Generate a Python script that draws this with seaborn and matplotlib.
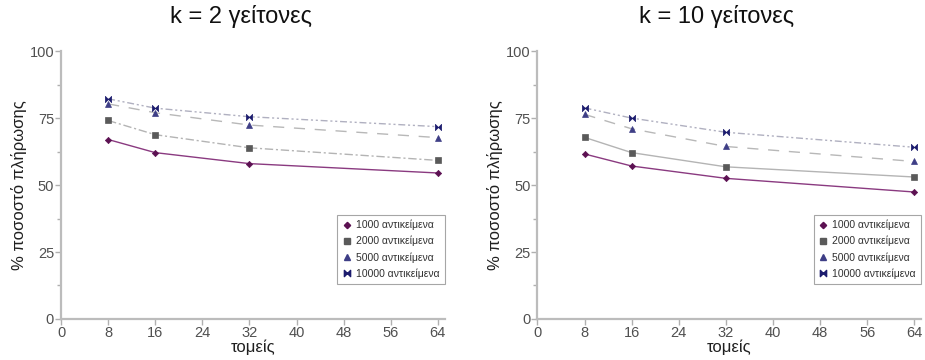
import numpy as np
import pandas as pd
import matplotlib
matplotlib.use("Agg")
import matplotlib.pyplot as plt
from matplotlib.path import Path
from matplotlib.lines import Line2D
from matplotlib.ticker import MultipleLocator
import seaborn as sns

# data
sectors = [8, 16, 32, 64]
series_names = ["1000 αντικείμενα", "2000 αντικείμενα", "5000 αντικείμενα", "10000 αντικείμενα"]
k2_values = [
    [67.0, 62.1, 58.0, 54.5],
    [74.1, 68.8, 63.9, 59.2],
    [80.3, 77.0, 72.4, 67.7],
    [82.2, 78.7, 75.5, 71.8],
]
k10_values = [
    [61.6, 57.1, 52.5, 47.4],
    [67.8, 62.1, 56.8, 53.0],
    [76.4, 71.0, 64.4, 58.8],
    [78.8, 75.0, 69.7, 64.1],
]
titles = ["k = 2 γείτονες", "k = 10 γείτονες"]

sns.set_style("white")
plt.rcParams["font.family"] = ["Liberation Sans", "DejaVu Sans"]

# bowtie marker for the last series
bowtie = Path([(-1, 1), (1, -1), (1, 1), (-1, -1), (-1, 1)],
              [Path.MOVETO, Path.LINETO, Path.LINETO, Path.LINETO, Path.CLOSEPOLY])

markers = ["D", "s", "^", bowtie]
marker_sizes = [3.2, 5, 5, 4.5]
marker_colors = ["#5c1152", "#5a5a5a", "#3e3e86", "#1c1c6e"]
line_colors = ["#8a3a80", "#b4b4b4", "#b8b8b8", "#b0b0c0"]
dashes_left = ["-", (0, (6, 2, 1.5, 2)), (0, (8, 7)), (0, (5, 2, 1.5, 2, 1.5, 2))]
dashes_right = ["-", "-", (0, (8, 7)), (0, (5, 2, 1.5, 2, 1.5, 2))]

fig = plt.figure(figsize=(9.25, 3.6), dpi=100)
ax_l = fig.add_axes([0.066, 0.114, 0.415, 0.744])
ax_r = fig.add_axes([0.581, 0.114, 0.415, 0.744])

for ax, values, dashes, title, tx in zip([ax_l, ax_r], [k2_values, k10_values],
                                          [dashes_left, dashes_right], titles, [0.261, 0.775]):
    for i, name in enumerate(series_names):
        df = pd.DataFrame({"x": sectors, "y": values[i]})
        sns.lineplot(data=df, x="x", y="y", ax=ax, color=line_colors[i],
                     linestyle=dashes[i], linewidth=1.0, marker=markers[i],
                     markersize=marker_sizes[i], markerfacecolor=marker_colors[i],
                     markeredgecolor=marker_colors[i], markeredgewidth=0.5)
    ax.set_xlim(0, 65.2)
    ax.set_ylim(0, 100)
    ax.xaxis.set_major_locator(MultipleLocator(8))
    ax.yaxis.set_major_locator(MultipleLocator(25))
    ax.yaxis.set_minor_locator(MultipleLocator(12.5))
    ax.tick_params(axis="both", which="both", direction="out", color="#b0b0b0",
                   labelcolor="#505050", labelsize=10.5, length=4, width=1, pad=1)
    ax.tick_params(axis="y", which="minor", length=3)
    ax.tick_params(left=True, bottom=True, which="both")
    for s in ["top", "right"]:
        ax.spines[s].set_visible(False)
    for s in ["left", "bottom"]:
        ax.spines[s].set_color("#bcbcbc")
        ax.spines[s].set_linewidth(1.6)
    ax.set_xlabel("τομείς", fontsize=12, color="#202020", labelpad=0)
    ax.set_ylabel("% ποσοστό πλήρωσης", fontsize=12, color="#202020", labelpad=2)
    fig.text(tx, 0.955, title, ha="center", va="center", fontsize=17, color="#101010")

    handles = [Line2D([], [], linestyle="none", marker=markers[i], markersize=marker_sizes[i],
                      markerfacecolor=marker_colors[i], markeredgecolor=marker_colors[i])
               for i in range(4)]
    leg = ax.legend(handles, series_names, loc="lower right", bbox_to_anchor=(1.0, 0.13),
                    fontsize=7.5, frameon=True, fancybox=False, handlelength=0.8,
                    handletextpad=0.5, borderpad=0.5, labelspacing=0.55, borderaxespad=0)
    leg.get_frame().set_edgecolor("#909090")
    leg.get_frame().set_linewidth(0.8)
    for t in leg.get_texts():
        t.set_color("#303030")

fig.savefig("out.png", dpi=100)
